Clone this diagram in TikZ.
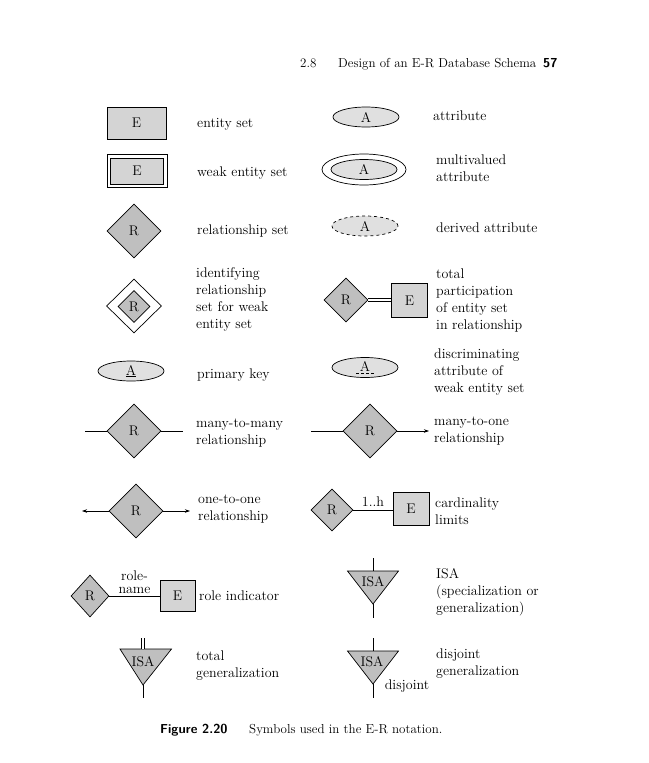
\documentclass[tikz,border=0pt]{standalone}
\usetikzlibrary{arrows.meta,positioning,shapes.geometric}

\begin{document}
\begin{tikzpicture}[
  x=1pt, y=-1pt,
  every node/.style={font=\fontsize{14}{17}\selectfont},
  lbl/.style={
    anchor=west,
    align=left,
    inner sep=0pt
  },
  ln/.style={line width=0.7pt},
  entbox/.style={
    draw,
    ln,
    fill=black!17,
    inner sep=0pt,
    minimum width=59pt,
    minimum height=32pt
  },
  relbox/.style={
    diamond,
    draw,
    ln,
    fill=black!25,
    inner sep=0pt,
    minimum width=54pt,
    minimum height=54pt
  },
  attrbox/.style={
    ellipse,
    draw,
    ln,
    fill=black!12,
    inner sep=0pt,
    minimum width=66pt,
    minimum height=20pt
  },
  isabox/.style={
    draw,
    ln,
    fill=black!25
  },
  arr/.style={
    ln,
    -{Stealth[length=5pt,width=3.5pt]}
  }
]
\useasboundingbox (0,0) rectangle (648,763);

% Page header
\node[anchor=base west, inner sep=0pt, font=\fontsize{13}{16}\selectfont] (secno) at (300,67) {2.8};
\node[anchor=base west, inner sep=0pt, font=\fontsize{13}{16}\selectfont] (sectitle) at (338,67)
  {Design of an E-R Database Schema};
\node[anchor=base west, inner sep=0pt, font=\fontsize{13}{16}\selectfont\sffamily\bfseries] (pageno) at (543,67) {57};

% Left column symbols
\node[entbox] (ent) at (136.5,123) {E};
\node[entbox, fill=white, minimum width=60pt, minimum height=33pt] (wentout) at (137,171) {};
\node[entbox, minimum width=53pt, minimum height=26pt] (went) at (137,171) {E};
\node[relbox] (rel) at (134,231) {R};
\node[relbox, fill=white, minimum width=55pt] (idrelout) at (134,306) {};
\node[relbox, minimum width=32pt, minimum height=32pt] (idrel) at (134,306.5) {R};
\node[attrbox] (pkey) at (131,371) {\underline{A}};

\node[relbox] (mm) at (134,431) {R};
\coordinate (mmleft) at (85,431);
\coordinate (mmright) at (183,431);
\draw[ln] (mmleft) -- (mm.west);
\draw[ln] (mm.east) -- (mmright);

\node[relbox] (oo) at (136,511) {R};
\coordinate (ooleft) at (82,511);
\coordinate (ooright) at (190,511);
\draw[arr] (oo.west) -- (ooleft);
\draw[arr] (oo.east) -- (ooright);

\node[relbox, minimum width=38pt, minimum height=42pt] (rolerel) at (90,596) {R};
\node[entbox, minimum width=35pt, minimum height=31pt] (roleent) at (177.5,596) {E};
\draw[ln] (rolerel.east) -- node[above=1pt, align=center, inner sep=1pt, font=\fontsize{14}{13}\selectfont] (rolename) {role-\\name} (roleent.west);

% Total generalization
\coordinate (tgtop) at (143,649);
\coordinate (tgapex) at (143,685);
\coordinate (tgup) at (143,638);
\coordinate (tgdown) at (143,698);
\draw[isabox] (120,649) -- (171.5,649) -- (tgapex) -- cycle;
\node[inner sep=0pt] (tgisa) at (143,661.5) {ISA};
\draw[ln, double, double distance=2.5pt] (tgup) -- (tgtop);
\draw[ln] (tgapex) -- (tgdown);

% Right column symbols
\node[attrbox] (attr) at (366,117) {A};
\node[attrbox, fill=white, minimum width=84pt, minimum height=31pt] (mvout) at (364,169.5) {};
\node[attrbox] (mvattr) at (364,169.5) {A};
\node[attrbox, dashed] (derattr) at (365,226) {A};

\node[relbox, minimum width=44pt, minimum height=44pt] (tprel) at (346,300) {R};
\node[entbox, minimum width=36pt, minimum height=34pt] (tpent) at (409.5,300.5) {E};
\draw[ln, double, double distance=2.5pt] (tprel.east) -- (tprel.east -| tpent.west);

\node[attrbox] (disattr) at (365,367.5) {\raisebox{2pt}{A}};
\draw[ln, dash pattern=on 3pt off 2pt] ([xshift=-9pt,yshift=-6pt]disattr.center) -- ([xshift=9pt,yshift=-6pt]disattr.center);

\node[relbox] (mo) at (370,431) {R};
\coordinate (moleft) at (311,431);
\coordinate (moright) at (429,431);
\draw[ln] (moleft) -- (mo.west);
\draw[arr] (mo.east) -- (moright);

\node[relbox, minimum width=42pt, minimum height=42pt] (cardrel) at (332,510) {R};
\node[entbox, minimum width=36pt, minimum height=33pt] (cardent) at (411,508.5) {E};
\draw[ln] (cardrel.east) -- node[above=2pt, inner sep=1pt] (cardlim) {1..h} (cardrel.east -| cardent.west);

% ISA
\coordinate (isatop) at (373,571);
\coordinate (isaapex) at (373,604);
\coordinate (isaup) at (373,558);
\coordinate (isadown) at (373,618);
\draw[isabox] (347.5,571) -- (398.5,571) -- (isaapex) -- cycle;
\node[inner sep=0pt] (isa) at (373,582) {ISA};
\draw[ln] (isaup) -- (isatop);
\draw[ln] (isaapex) -- (isadown);

% Disjoint generalization
\coordinate (djtop) at (373,651);
\coordinate (djapex) at (373,684);
\coordinate (djup) at (373,638);
\coordinate (djdown) at (373,698);
\draw[isabox] (347.5,651) -- (398.5,651) -- (djapex) -- cycle;
\node[inner sep=0pt] (djisa) at (372,662) {ISA};
\draw[ln] (djup) -- (djtop);
\draw[ln] (djapex) -- (djdown);
\node[inner sep=0pt] (djlbl) at (407,686) {disjoint};

% Left column labels
\node[lbl] (tent) at (197,124) {entity set};
\node[lbl] (twent) at (197,173) {weak entity set};
\node[lbl] (trel) at (197,231) {relationship set};
\node[lbl] (tidrel) at (196,299) {identifying\\relationship\\set for weak\\entity set};
\node[lbl] (tpkey) at (197,375) {primary key};
\node[lbl] (tmm) at (196,433) {many-to-many\\relationship};
\node[lbl] (too) at (198,509) {one-to-one\\relationship};
\node[lbl] (trole) at (199,596) {role indicator};
\node[lbl] (ttg) at (196,666) {total\\generalization};

% Right column labels
\node[lbl] (tattr) at (433,116) {attribute};
\node[lbl] (tmv) at (436,168) {multivalued\\attribute};
\node[lbl] (tder) at (436,228) {derived attribute};
\node[lbl] (ttp) at (436,300) {total\\participation\\of entity set\\in relationship};
\node[lbl] (tdis) at (434,372) {discriminating\\attribute of\\weak entity set};
\node[lbl] (tmo) at (434,431) {many-to-one\\relationship};
\node[lbl] (tcard) at (435,511) {cardinality\\limits};
\node[lbl] (tisa) at (436,592) {ISA\\(specialization or\\generalization)};
\node[lbl] (tdj) at (436,664) {disjoint\\generalization};

% Caption
\node[anchor=base west, inner sep=0pt, font=\fontsize{13}{16}\selectfont\sffamily\bfseries] (figno) at (160,733) {Figure 2.20};
\node[anchor=base west, inner sep=0pt, font=\fontsize{13}{16}\selectfont] (figcap) at (249,733)
  {Symbols used in the E-R notation.};

\end{tikzpicture}
\end{document}
